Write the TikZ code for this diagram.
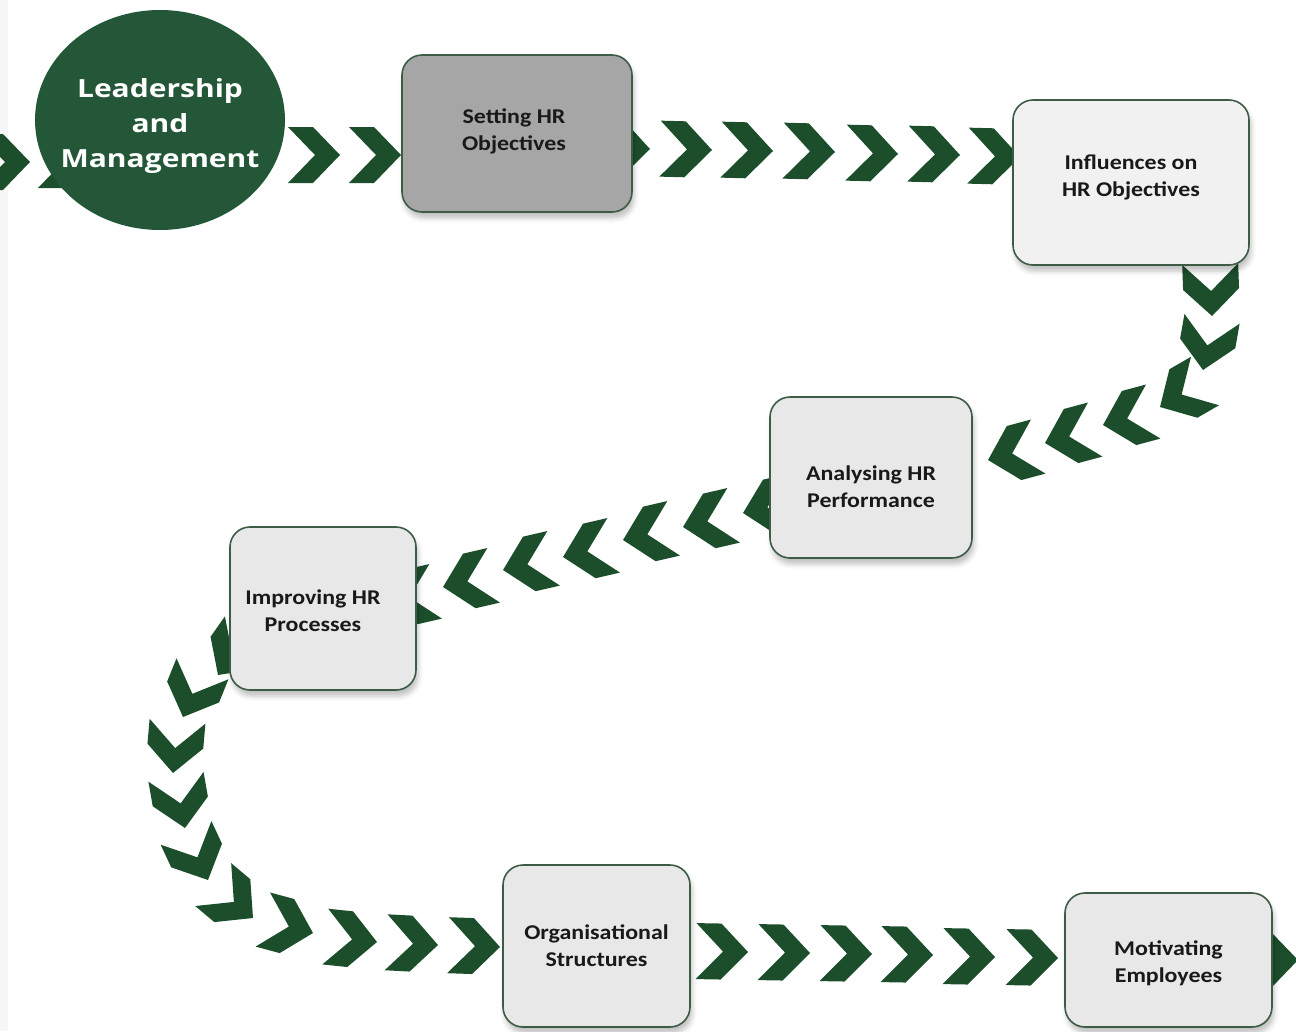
\documentclass[tikz,border=0pt]{standalone}
\usepackage{fontspec}
\newfontfamily\boxfont[FakeStretch=1.14]{Carlito}
\newfontfamily\leadfont[FakeStretch=1.2]{Open Sans}
\usetikzlibrary{shapes.geometric,shadows.blur}
\definecolor{chevgreen}{HTML}{1C4E2C}
\definecolor{leadgreen}{HTML}{245738}
\definecolor{boxline}{HTML}{3D5C46}
\definecolor{boxdark}{HTML}{A6A6A6}
\definecolor{boxlight}{HTML}{E8E8E8}
\definecolor{boxpale}{HTML}{F1F1F1}
\tikzset{chev/.pic={\fill[chevgreen] (-52,-28) -- (-27,-28) -- (0,0) -- (-27,28) -- (-52,28) -- (-25,0) -- cycle;}}
\tikzset{hrbox/.style={draw=boxline, line width=1.6pt, rounded corners=20pt, fill=boxlight,
  blur shadow={shadow xshift=2pt, shadow yshift=-6pt, shadow blur radius=5pt, shadow opacity=25}},
  boxtext/.style={align=center, text=black!90, font=\boxfont\bfseries\fontsize{21}{27}\selectfont}}

\begin{document}
\begin{tikzpicture}[x=1pt,y=-1pt]
  \useasboundingbox (0,0) rectangle (1296,1031);
  \fill[gray!7] (0,0) rectangle (8,1031);

  % chevrons along the path
  \foreach \x/\y/\a in {30/162/0, 90/160/0, 340/155/0, 401/155/0,
      650/149/-1.5, 712/150/-1.5, 773/151/-1.5, 835/152/-1.5, 898/154/-1.5, 960/155/-1.5, 1020/157/-1.5,
      1212/316/-88, 1203/370/-100, 1160/407/-150, 1103/425/-165, 1045/443/-165, 988/460/-165,
      743/513/-167, 683/527/-167, 623/540/-167, 563/557/-167, 503/570/-167, 443/587/-167, 385/603/-167,
      218/675/-125, 183/717/-112, 173/773/-95, 185/828/-80, 208/880/-65, 253/918/-40,
      313/933/-15, 377/942/-6, 438/945/-3, 500/947/-2,
      748/952/-1, 810/953/-1, 872/954/-1, 933/955/-1, 995/957/-1, 1058/958/-1, 1298/960/0}
    \pic[rotate=\a] at (\x,\y) {chev};

  \node[ellipse, fill=leadgreen, minimum width=250pt, minimum height=220pt, inner sep=0pt,
        label={[yshift=-6pt, align=center, text=white, font=\leadfont\bfseries\fontsize{25}{35}\selectfont]center:Leadership\\and\\Management}]
        (lead) at (160,120) {};

  \node[hrbox, fill=boxdark, minimum width=230pt, minimum height=157pt,
        label={[boxtext, yshift=2pt, xshift=-3pt]center:Setting HR\\Objectives}] (setting) at (517,133.5) {};
  \node[hrbox, fill=boxpale, minimum width=236pt, minimum height=165pt,
        label={[boxtext, yshift=5pt]center:Influences on\\HR Objectives}] (influence) at (1131,182.5) {};
  \node[hrbox, minimum width=202pt, minimum height=161pt,
        label={[boxtext, yshift=-9pt]center:Analysing HR\\Performance}] (analysing) at (871,477.5) {};
  \node[hrbox, minimum width=186pt, minimum height=163pt,
        label={[boxtext, xshift=-10pt, yshift=-2pt]center:Improving HR\\Processes}] (improving) at (323,608.5) {};
  \node[hrbox, minimum width=187pt, minimum height=162pt,
        label={[boxtext]center:Organisational\\Structures}] (structures) at (596.5,946) {};
  \node[hrbox, minimum width=207pt, minimum height=134pt,
        label={[boxtext, yshift=-3pt]center:Motivating\\Employees}] (motivating) at (1168.5,960) {};
\end{tikzpicture}
\end{document}
